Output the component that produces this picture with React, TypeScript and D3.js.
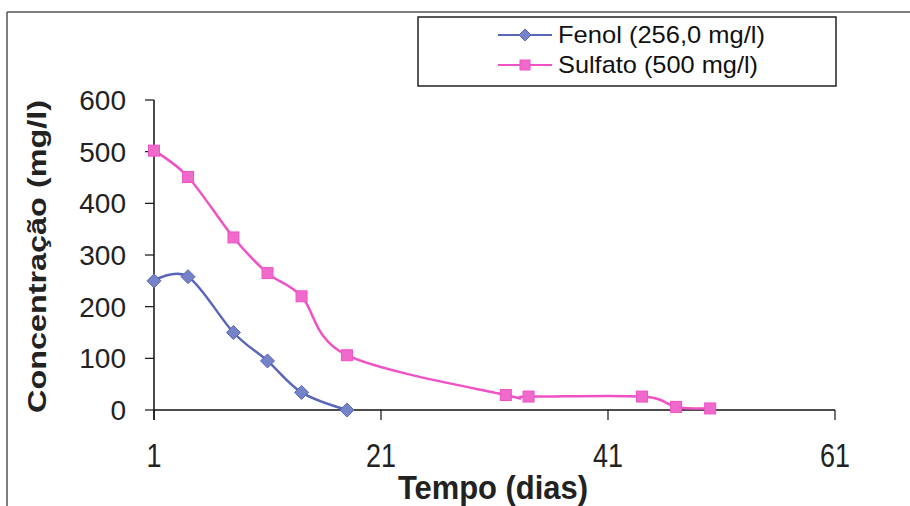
import * as d3 from 'd3';

const fenolDays = [1, 4, 8, 11, 14, 18];
const fenolValues = [250, 258, 150, 95, 34, 0];
const sulfatoDays = [1, 4, 8, 11, 14, 18, 32, 34, 44, 47, 50];
const sulfatoValues = [502, 451, 334, 265, 220, 106, 29, 26, 26, 6, 3];
const xTicks = [1, 21, 41, 61];
const yTicks = [0, 100, 200, 300, 400, 500, 600];
const legendLabels = ['Fenol (256,0 mg/l)', 'Sulfato (500 mg/l)'];

const FENOL_LINE = '#5a66b8';
const FENOL_FILL = '#7583c9';
const SULF_LINE = '#f052c6';
const SULF_FILL = '#f06acc';

export default function App() {
  const width = 910;
  const height = 506;
  const margin = { left: 154, right: 75, top: 100, bottom: 96 };

  const x = d3.scaleLinear().domain([1, 61]).range([margin.left, width - margin.right]);
  const y = d3.scaleLinear().domain([0, 600]).range([height - margin.bottom, margin.top]);

  // Excel-style smoothing ~ uniform Catmull-Rom
  const line = d3
    .line<[number, number]>()
    .x(d => x(d[0]))
    .y(d => y(d[1]))
    .curve(d3.curveCardinal.tension(0));

  const fenol = fenolDays.map((d, i) => [d, fenolValues[i]] as [number, number]);
  const sulfato = sulfatoDays.map((d, i) => [d, sulfatoValues[i]] as [number, number]);

  const font = 'Arial, "Liberation Sans", sans-serif';
  const y0 = y(0);

  const diamond = (cx: number, cy: number, r: number) =>
    `M${cx},${cy - r}L${cx + r},${cy}L${cx},${cy + r}L${cx - r},${cy}Z`;

  return (
    <svg
      width={width}
      height={height}
      style={{ position: 'absolute', left: 0, top: 0, background: '#fff' }}
      fontFamily={font}
    >
      {/* chart frame */}
      <line x1={7} y1={12} x2={910} y2={12} stroke="#555" strokeWidth={1.5} />
      <line x1={7} y1={12} x2={7} y2={506} stroke="#555" strokeWidth={1.5} />

      {/* y axis */}
      <line x1={x(1)} y1={y(600)} x2={x(1)} y2={y0 + 10} stroke="#111" strokeWidth={1.5} />
      {yTicks.map(t => (
        <g key={t}>
          <line x1={x(1) - 9} x2={x(1)} y1={y(t)} y2={y(t)} stroke="#111" strokeWidth={1.2} />
          <text x={126} y={y(t) + 10} textAnchor="end" fontSize={28} fill="#222">
            {t}
          </text>
        </g>
      ))}

      {/* x axis */}
      <line x1={x(1)} y1={y0} x2={x(61)} y2={y0} stroke="#111" strokeWidth={1.5} />
      {xTicks.map(t => (
        <g key={t}>
          <line x1={x(t)} x2={x(t)} y1={y0} y2={y0 + 10} stroke="#111" strokeWidth={1.2} />
          <text
            x={x(t)}
            y={467}
            textAnchor="middle"
            fontSize={34}
            fill="#222"
            textLength={String(t).length * 15}
            lengthAdjust="spacingAndGlyphs"
          >
            {t}
          </text>
        </g>
      ))}

      {/* axis titles */}
      <text
        x={398}
        y={499}
        fontSize={34}
        fontWeight="bold"
        fill="#222"
        textLength={190}
        lengthAdjust="spacingAndGlyphs"
      >
        Tempo (dias)
      </text>
      <text
        transform="translate(46,413) rotate(-90)"
        fontSize={25}
        fontWeight="bold"
        fill="#222"
        textLength={313}
        lengthAdjust="spacingAndGlyphs"
      >
        Concentração (mg/l)
      </text>

      {/* series */}
      <path d={line(sulfato) ?? ''} fill="none" stroke={SULF_LINE} strokeWidth={2.5} />
      <path d={line(fenol) ?? ''} fill="none" stroke={FENOL_LINE} strokeWidth={2.5} />
      {fenol.map((d, i) => (
        <path
          key={i}
          d={diamond(x(d[0]), y(d[1]), 7)}
          fill={FENOL_FILL}
          stroke={FENOL_LINE}
          strokeWidth={1}
        />
      ))}
      {sulfato.map((d, i) => (
        <rect
          key={i}
          x={x(d[0]) - 5.5}
          y={y(d[1]) - 5.5}
          width={11}
          height={11}
          fill={SULF_FILL}
          stroke={SULF_LINE}
          strokeWidth={1}
        />
      ))}

      {/* legend */}
      <rect x={418} y={17} width={418} height={69} fill="#fff" stroke="#222" strokeWidth={1.5} />
      <line x1={498} x2={552} y1={35} y2={35} stroke={FENOL_LINE} strokeWidth={2} />
      <path d={diamond(525, 35, 6)} fill={FENOL_FILL} stroke={FENOL_LINE} strokeWidth={1} />
      <line x1={498} x2={552} y1={65} y2={65} stroke={SULF_LINE} strokeWidth={2} />
      <rect x={520} y={60} width={10} height={10} fill={SULF_FILL} stroke={SULF_LINE} strokeWidth={1} />
      <text x={558} y={43} fontSize={24} fill="#111" textLength={207} lengthAdjust="spacingAndGlyphs">
        {legendLabels[0]}
      </text>
      <text x={558} y={73} fontSize={24} fill="#111" textLength={200} lengthAdjust="spacingAndGlyphs">
        {legendLabels[1]}
      </text>
    </svg>
  );
}
